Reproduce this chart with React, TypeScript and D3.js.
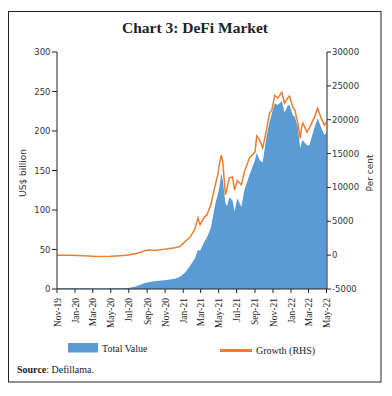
import React from "react";
import * as d3 from "d3";

// semi-regular sample dates
const dates = [
  "2019-11-01", "2019-12-15", "2020-02-01", "2020-03-15", "2020-05-01", "2020-06-15",
  "2020-07-04", "2020-07-27", "2020-08-24", "2020-09-10", "2020-09-25", "2020-10-13",
  "2020-11-05", "2020-12-04", "2020-12-21", "2021-01-07", "2021-01-24", "2021-02-10",
  "2021-02-20", "2021-02-27", "2021-03-14", "2021-03-22", "2021-04-05", "2021-04-18",
  "2021-04-28", "2021-05-03", "2021-05-10", "2021-05-15", "2021-05-24", "2021-05-30",
  "2021-06-06", "2021-06-17", "2021-06-24", "2021-07-03", "2021-07-17", "2021-07-27",
  "2021-08-13", "2021-09-01", "2021-09-07", "2021-09-17", "2021-09-27", "2021-10-10",
  "2021-10-20", "2021-10-28", "2021-11-07", "2021-11-17", "2021-12-01", "2021-12-10",
  "2021-12-20", "2021-12-27", "2022-01-07", "2022-01-14", "2022-01-24", "2022-02-01",
  "2022-02-06", "2022-02-10", "2022-02-24", "2022-03-04", "2022-03-21", "2022-04-01",
  "2022-04-13", "2022-04-24", "2022-05-01",
];

// Total value locked, US$ billion (LHS)
const totalValue = [
  0.9, 0.9, 0.9, 0.7, 0.8, 1.0,
  1.5, 3.5, 7.5, 9, 9.8, 10.5,
  11.5, 13, 15.5, 20.5, 29, 39,
  50, 48, 60, 65, 78, 105,
  120, 128, 146, 138, 108, 105,
  116, 112, 98, 115, 104, 125,
  144, 163, 172, 163, 160, 193,
  211, 222, 235, 233, 238, 223,
  232, 233, 220, 218, 205, 178,
  186, 188, 182, 182, 204, 216,
  204, 195, 198,
];

// Growth, per cent (RHS)
const growth = [
  0, -30, -80, -200, -150, -50,
  50, 250, 640, 790, 700, 790,
  900, 1080, 1280, 1970, 2630, 3880,
  5500, 4470, 5650, 5900, 7500, 10070,
  11840, 13300, 14780, 13750, 8900, 10000,
  11390, 11540, 9630, 11000, 10400, 12300,
  14340, 15220, 17580, 16990, 15810, 18470,
  20970, 21410, 23620, 23180, 24060, 22440,
  23180, 23470, 21850, 21410, 19500, 17290,
  18900, 19500, 18170, 18760, 20380, 21700,
  20230, 19200, 19640,
];

const leftTicks = [0, 50, 100, 150, 200, 250, 300];
const rightTicks = [-5000, 0, 5000, 10000, 15000, 20000, 25000, 30000];
const xTickDates = d3.timeMonth.every(2)!.range(new Date(2019, 10, 1), new Date(2022, 4, 2));

const BLUE = "#5b9bd5";
const ORANGE = "#ed7d31";
const SANS = "'DejaVu Sans', sans-serif";
const SERIF = "'Liberation Serif', serif";

export default function App() {
  const parse = d3.timeParse("%Y-%m-%d");
  const data = dates.map((d, i) => ({ date: parse(d)!, v: totalValue[i], g: growth[i] }));

  const x = d3.scaleTime().domain([new Date(2019, 10, 1), new Date(2022, 4, 1)]).range([57, 326.5]);
  const yL = d3.scaleLinear().domain([0, 300]).range([289, 52]);
  const yR = d3.scaleLinear().domain([-5000, 30000]).range([289, 52]);
  const fmt = d3.timeFormat("%b-%y");

  const area = d3.area<any>().x(d => x(d.date)).y0(yL(0)).y1(d => yL(d.v));
  const line = d3.line<any>().x(d => x(d.date)).y(d => yR(d.g));

  return (
    <svg width={392} height={396} style={{ position: "absolute", left: 0, top: 0, background: "#fff" }}>
      <rect x={8.5} y={11.5} width={372.5} height={370.5} fill="none" stroke="#222" strokeWidth={1} />
      <text x={195} y={33} textAnchor="middle" fontFamily={SERIF} fontWeight="bold" fontSize={15.5} fill="#222">
        Chart 3: DeFi Market
      </text>

      <path d={area(data)!} fill={BLUE} />
      <path d={line(data)!} fill="none" stroke={ORANGE} strokeWidth={1.5} />

      {/* left axis */}
      <line x1={57} x2={57} y1={52} y2={289} stroke="#222" />
      {leftTicks.map(t => (
        <g key={t}>
          <line x1={52} x2={57} y1={yL(t)} y2={yL(t)} stroke="#222" />
          <text x={50.5} y={yL(t) + 3} textAnchor="end" fontFamily={SANS} fontSize={8.5} fill="#333">{t}</text>
        </g>
      ))}
      <text transform={`translate(26,173) rotate(-90)`} textAnchor="middle" fontFamily={SANS} fontSize={9} fill="#333">US$ billion</text>

      {/* right axis */}
      <line x1={327} x2={327} y1={52} y2={289} stroke="#222" />
      {rightTicks.map(t => (
        <g key={t}>
          <line x1={327} x2={331} y1={yR(t)} y2={yR(t)} stroke="#222" />
          <text x={332} y={yR(t) + 3} fontFamily={SANS} fontSize={8.5} fill="#333">{t}</text>
        </g>
      ))}
      <text transform={`translate(373,173) rotate(-90)`} textAnchor="middle" fontFamily={SANS} fontSize={9} fill="#333">Per cent</text>

      {/* bottom axis */}
      <line x1={57} x2={327} y1={289} y2={289} stroke="#222" />
      {xTickDates.map(d => (
        <g key={d.getTime()}>
          <line x1={x(d)} x2={x(d)} y1={289} y2={293} stroke="#222" />
          <text transform={`translate(${x(d) + 3.5},298) rotate(-90)`} textAnchor="end" fontFamily={SERIF} fontSize={9.5} fill="#222">
            {fmt(d)}
          </text>
        </g>
      ))}

      {/* legend */}
      <rect x={68} y={343} width={30} height={9.5} fill={BLUE} />
      <text x={102} y={352} fontFamily={SERIF} fontSize={10} fill="#222">Total Value</text>
      <line x1={220} x2={252} y1={350.5} y2={350.5} stroke={ORANGE} strokeWidth={3} />
      <text x={256} y={354} fontFamily={SERIF} fontSize={10} fill="#222">Growth (RHS)</text>

      <text x={17} y={373} fontFamily={SERIF} fontSize={10} fill="#222">
        <tspan fontWeight="bold">Source</tspan>: Defillama.
      </text>
    </svg>
  );
}
